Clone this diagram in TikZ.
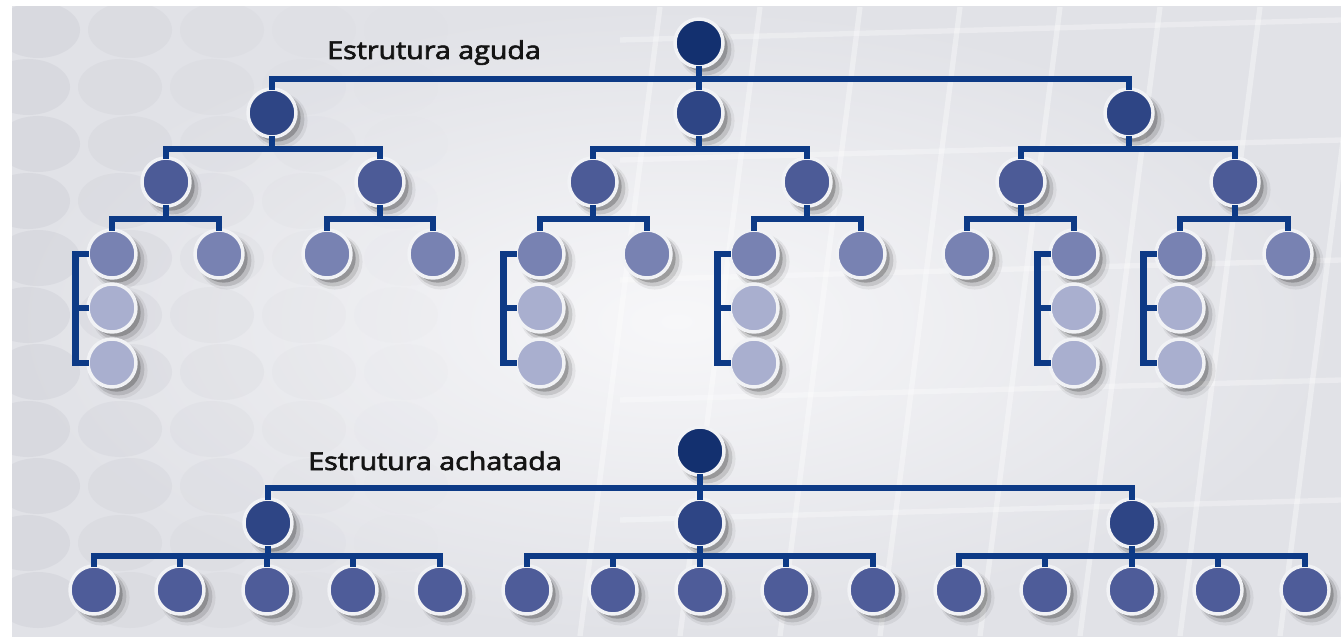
\documentclass[tikz,border=0pt]{standalone}
\usepackage{fontspec}
\setmainfont{Open Sans}
\newfontfamily\lblfont{Open Sans}[FakeBold=2.5]
\usetikzlibrary{shadows,calc}
\definecolor{bgout}{HTML}{E1E2E7}
\definecolor{bgmid}{HTML}{F7F7F9}
\definecolor{dots}{HTML}{CFD0D7}
\definecolor{linec}{HTML}{0D3A86}
\definecolor{cz}{HTML}{13306F}
\definecolor{ca}{HTML}{2E4585}
\definecolor{cb}{HTML}{4C5B97}
\definecolor{cc}{HTML}{7882B2}
\definecolor{cd}{HTML}{A9AFCF}
\definecolor{ce}{HTML}{4E5C99}
\definecolor{ring}{HTML}{F1F2F5}
\tikzset{
  nd/.style={circle, inner sep=0pt, minimum size=36pt, draw=ring, line width=2.6pt,
    general shadow={shadow xshift=5pt, shadow yshift=-5pt, shadow scale=1.16, fill=black, opacity=0.06},
    general shadow={shadow xshift=4.5pt, shadow yshift=-4.5pt, shadow scale=1.08, fill=black, opacity=0.12},
    general shadow={shadow xshift=3.5pt, shadow yshift=-3.5pt, fill=black, opacity=0.22}},
  n0/.style={nd, fill=cz},
  n1/.style={nd, fill=ca},
  n2/.style={nd, fill=cb},
  n3/.style={nd, fill=cc},
  n4/.style={nd, fill=cd},
  n5/.style={nd, fill=ce},
  conn/.style={draw=linec, line width=5pt, line join=miter, shorten <=-2pt, shorten >=-2pt},
  lbl/.style={inner sep=0pt, text=black!92, font=\lblfont\fontsize{18.5pt}{22pt}\selectfont}
}
\newcommand\treeedge[3]{\draw[conn] (#1.south) -- (#1.south |- #3) -| (#2.north);}
\newcommand\stackedge[3]{\draw[conn] (#1.west) -- ++(-11,0) |- (#3.west); \draw[conn] (#2.west) -- ++(-11,0);}
\begin{document}
\begin{tikzpicture}[x=0.75pt,y=-0.75pt]
\useasboundingbox (0,0) rectangle (1341,638);
\fill[white] (0,0) rectangle (1341,638);
\shade[inner color=bgmid, outer color=bgout] (12,7) rectangle (1341,636);
\begin{scope}
  \clip (12,7) rectangle (1341,636);
  \foreach \r in {0,...,10} {
    \foreach \c/\o in {0/0.45,1/0.32,2/0.2,3/0.1,4/0.04} {
      \fill[dots, opacity=\o] ({38+92*\c-10*mod(\r,2)}, {30+57*\r}) ellipse (42 and 28);
    }
  }
  \foreach \x in {660,760,...,1360} {
    \draw[white, line width=4pt, opacity=0.35] (\x,7) -- ({\x-80},636);
  }
  \foreach \y in {40,160,280,400,520} {
    \draw[white, line width=4pt, opacity=0.3] (620,\y) -- (1341,{\y-20});
  }
\end{scope}

% labels
\node[lbl, anchor=base west] (t1) at (327,59) {\scalebox{1.16}[1]{Estrutura aguda}};
\node[lbl, anchor=base west] (t2) at (308,470) {\scalebox{1.16}[1]{Estrutura achatada}};

% bus levels
\coordinate (bus1) at (0,79);
\coordinate (bus2) at (0,149);
\coordinate (bus3) at (0,219);
\coordinate (bus4) at (0,488);
\coordinate (bus5) at (0,556);

% top tree nodes
\node[n0] (R) at (699,43) {};
\node[n1] (A1) at (272,113) {};
\node[n1] (A2) at (699,113) {};
\node[n1] (A3) at (1129,113) {};
\node[n2] (B1) at (166,182) {};
\node[n2] (B2) at (380,182) {};
\node[n2] (B3) at (593,182) {};
\node[n2] (B4) at (807,182) {};
\node[n2] (B5) at (1021,182) {};
\node[n2] (B6) at (1235,182) {};
\node[n3] (C1) at (112,254) {};
\node[n3] (C2) at (219,254) {};
\node[n3] (C3) at (327,254) {};
\node[n3] (C4) at (433,254) {};
\node[n3] (C5) at (540,254) {};
\node[n3] (C6) at (647,254) {};
\node[n3] (C7) at (754,254) {};
\node[n3] (C8) at (861,254) {};
\node[n3] (C9) at (967,254) {};
\node[n3] (C10) at (1074,254) {};
\node[n3] (C11) at (1180,254) {};
\node[n3] (C12) at (1288,254) {};
\foreach \n/\x in {1/112,5/540,7/754,10/1074,11/1180} {
  \node[n4] (S\n a) at (\x,308) {};
  \node[n4] (S\n b) at (\x,363) {};
}

% bottom tree nodes
\node[n0] (Q) at (700,451) {};
\node[n1] (D1) at (268,523) {};
\node[n1] (D2) at (700,523) {};
\node[n1] (D3) at (1132,523) {};
\foreach \i/\x in {1/94,2/180,3/267,4/353,5/440,6/527,7/613,8/700,9/786,10/873,11/959,12/1045,13/1132,14/1218,15/1305} {
  \node[n5] (E\i) at (\x,590) {};
}

% top tree connectors
\treeedge{R}{A1}{bus1}
\treeedge{R}{A2}{bus1}
\treeedge{R}{A3}{bus1}
\treeedge{A1}{B1}{bus2}
\treeedge{A1}{B2}{bus2}
\treeedge{A2}{B3}{bus2}
\treeedge{A2}{B4}{bus2}
\treeedge{A3}{B5}{bus2}
\treeedge{A3}{B6}{bus2}
\treeedge{B1}{C1}{bus3}
\treeedge{B1}{C2}{bus3}
\treeedge{B2}{C3}{bus3}
\treeedge{B2}{C4}{bus3}
\treeedge{B3}{C5}{bus3}
\treeedge{B3}{C6}{bus3}
\treeedge{B4}{C7}{bus3}
\treeedge{B4}{C8}{bus3}
\treeedge{B5}{C9}{bus3}
\treeedge{B5}{C10}{bus3}
\treeedge{B6}{C11}{bus3}
\treeedge{B6}{C12}{bus3}
\stackedge{C1}{S1a}{S1b}
\stackedge{C5}{S5a}{S5b}
\stackedge{C7}{S7a}{S7b}
\stackedge{C10}{S10a}{S10b}
\stackedge{C11}{S11a}{S11b}

% bottom tree connectors
\treeedge{Q}{D1}{bus4}
\treeedge{Q}{D2}{bus4}
\treeedge{Q}{D3}{bus4}
\foreach \i in {1,...,5} {\treeedge{D1}{E\i}{bus5}}
\foreach \i in {6,...,10} {\treeedge{D2}{E\i}{bus5}}
\foreach \i in {11,...,15} {\treeedge{D3}{E\i}{bus5}}
\end{tikzpicture}
\end{document}
